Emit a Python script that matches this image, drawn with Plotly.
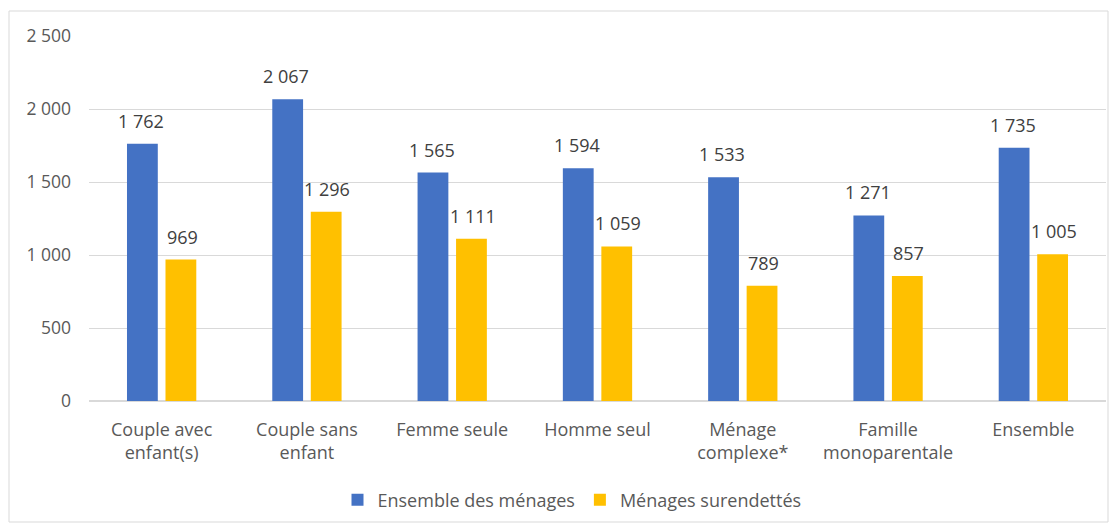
import plotly.graph_objects as go

categories = ["Couple avec<br>enfant(s)", "Couple sans<br>enfant", "Femme seule", "Homme seul",
              "Ménage<br>complexe*", "Famille<br>monoparentale", "Ensemble"]
ensemble = [1762, 2067, 1565, 1594, 1533, 1271, 1735]
surendettes = [969, 1296, 1111, 1059, 789, 857, 1005]
series_names = ["Ensemble des ménages", "Ménages surendettés"]
colors = ["#4472C4", "#FFC000"]
y_ticks = [0, 500, 1000, 1500, 2000, 2500]

FONT = "Open Sans"
FS = 18
fig = go.Figure()
for name, vals, col in zip(series_names, [ensemble, surendettes], colors):
    fig.add_trace(go.Bar(x=categories, y=vals, name=name, marker_color=col,
                         marker_line_width=0, hoverinfo="skip"))

def fmt(v):
    return f"{v:,}".replace(",", " ")

offsets = [-20.5, 20.5]
for vals, dx in zip([ensemble, surendettes], offsets):
    for c, v in zip(categories, vals):
        fig.add_annotation(x=c, y=v, xref="x", yref="y", text=fmt(v), showarrow=False,
                           yanchor="bottom", yshift=9, xshift=dx,
                           font=dict(family=FONT, size=FS, color="#404040"))

W, H = 1119, 527
ml, mr, mt, mb = 89, 13, 36, 126
pw, ph = W - ml - mr, H - mt - mb
def px(x): return (x - ml) / pw
def py(y): return (H - mb - y) / ph
fig.add_shape(type="rect", xref="paper", yref="paper",
              x0=px(9), x1=px(1108), y0=py(522), y1=py(11),
              line=dict(color="#d9d9d9", width=1), fillcolor="rgba(0,0,0,0)", layer="below")

fig.update_layout(
    width=W, height=H, margin=dict(l=ml, r=mr, t=mt, b=mb, autoexpand=False),
    paper_bgcolor="white", plot_bgcolor="white",
    separators=", ",
    barmode="group", bargap=0.47, bargroupgap=0.2,
    font=dict(family=FONT, size=FS, color="#595959"),
    showlegend=True,
    legend=dict(orientation="h", xref="container", yref="container",
                x=572 / W, xanchor="center", y=1 - 500 / H, yanchor="middle",
                font=dict(family=FONT, size=FS, color="#595959"), itemwidth=30,
                traceorder="normal"),
    xaxis=dict(showgrid=False, showline=True, linecolor="#d9d9d9", linewidth=1,
               automargin=False, ticklabelstandoff=12,
               ticks="", tickfont=dict(size=FS, color="#595959"), fixedrange=True),
    yaxis=dict(range=[0, 2500], tickvals=y_ticks, tickformat=",d",
               showgrid=True, gridcolor="#d9d9d9", gridwidth=1, automargin=False,
               zeroline=True, zerolinecolor="#d9d9d9", showline=False, ticks="",
               ticklabelstandoff=17,
               tickfont=dict(size=FS - 0.5, color="#595959"), fixedrange=True),
)
fig.write_html("out.html", config={"displayModeBar": False},
               post_script="document.body.style.margin='0px';document.body.style.overflow='hidden';")
